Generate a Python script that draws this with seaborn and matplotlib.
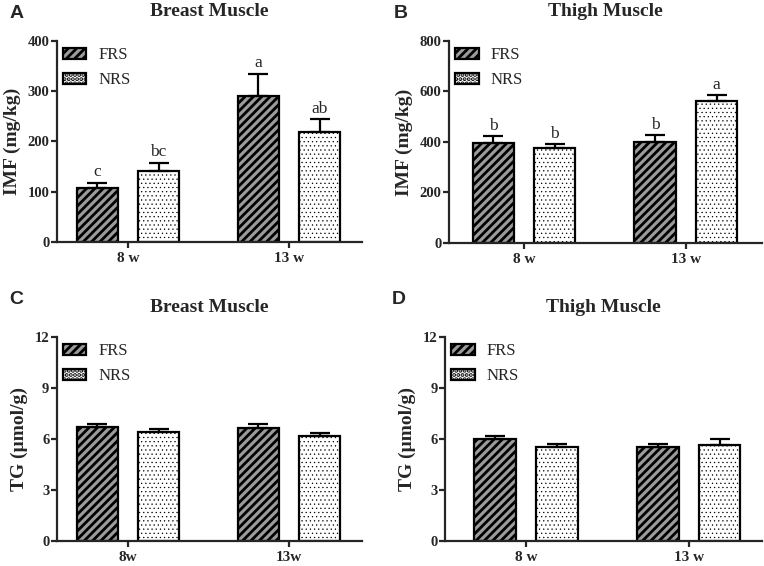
import matplotlib
matplotlib.use('Agg')
import matplotlib.pyplot as plt
import seaborn as sns
import pandas as pd
from matplotlib.patches import Patch

# data (mean, upper error)
groups = ['FRS', 'NRS']
weeks_ab = ['8 w', '13 w']
weeks_c = ['8w', '13w']
weeks_d = ['8 w', '13 w']

imf_breast_frs = [108, 291]
imf_breast_nrs = [142, 218]
imf_breast_frs_err = [10, 44]
imf_breast_nrs_err = [16, 26]
imf_breast_letters_frs = ['c', 'a']
imf_breast_letters_nrs = ['bc', 'ab']

imf_thigh_frs = [395, 401]
imf_thigh_nrs = [375, 561]
imf_thigh_frs_err = [27, 25]
imf_thigh_nrs_err = [16, 25]
imf_thigh_letters_frs = ['b', 'b']
imf_thigh_letters_nrs = ['b', 'a']

tg_breast_frs = [6.69, 6.63]
tg_breast_nrs = [6.39, 6.20]
tg_breast_frs_err = [0.19, 0.23]
tg_breast_nrs_err = [0.22, 0.13]

tg_thigh_frs = [6.00, 5.53]
tg_thigh_nrs = [5.53, 5.67]
tg_thigh_frs_err = [0.18, 0.20]
tg_thigh_nrs_err = [0.16, 0.31]

sns.set_style('ticks')
plt.rcParams['font.family'] = ['Liberation Serif', 'DejaVu Serif']
plt.rcParams['hatch.linewidth'] = 2.0
plt.rcParams['hatch.color'] = 'black'

GRAY = '#9b9b9b'
HATCHES = ['////', '....']
FILLS = [GRAY, 'white']
HATCH_LW = [2.0, 0.4]


def set_hatch_style(p, k):
    p.set_hatch(HATCHES[k])
    if hasattr(p, 'set_hatch_linewidth'):
        p.set_hatch_linewidth(HATCH_LW[k])
    else:
        p._hatch_linewidth = HATCH_LW[k]


def draw_panel(ax, weeks, frs, nrs, frs_err, nrs_err, ylim, yticks, ylabel,
               title, xlim, let_frs=None, let_nrs=None):
    df = pd.DataFrame({
        'week': weeks + weeks,
        'group': ['FRS'] * len(weeks) + ['NRS'] * len(weeks),
        'value': list(frs) + list(nrs),
    })
    sns.barplot(data=df, x='week', y='value', hue='group', order=weeks,
                hue_order=groups, palette=FILLS, width=0.76, gap=0.33,
                errorbar=None, edgecolor='black', linewidth=1.6,
                legend=False, ax=ax)
    errs = [frs_err, nrs_err]
    lets = [let_frs, let_nrs]
    span = ylim[1] - ylim[0]
    bar_conts = list(ax.containers)
    for i, cont in enumerate(bar_conts):
        for j, bar in enumerate(cont):
            set_hatch_style(bar, i)
            bar.set_facecolor(FILLS[i])
            bar.set_edgecolor('black')
            xc = bar.get_x() + bar.get_width() / 2
            h = bar.get_height()
            ax.errorbar(xc, h, yerr=[[0], [errs[i][j]]], fmt='none',
                        ecolor='black', elinewidth=1.6, capsize=7,
                        capthick=1.6, zorder=1)
            if lets[i] is not None:
                ax.text(xc, h + errs[i][j] + span * 0.012, lets[i][j],
                        ha='center', va='bottom', fontsize=12.5)
    ax.set_ylim(*ylim)
    ax.set_yticks(yticks)
    ax.set_xlim(*xlim)
    ax.set_xlabel('')
    ax.set_ylabel(ylabel, fontsize=14, fontweight='bold', labelpad=5)
    ax.set_title(title, fontsize=14, fontweight='bold', pad=18)
    sns.despine(ax=ax)
    for s in ['left', 'bottom']:
        ax.spines[s].set_linewidth(1.6)
    ax.tick_params(axis='y', width=1.6, length=4.5, labelsize=10.5,
                   direction='out', pad=1)
    ax.tick_params(axis='x', width=1.6, length=4.5, labelsize=11,
                   direction='out', pad=3)
    for t in ax.get_xticklabels() + ax.get_yticklabels():
        t.set_fontweight('bold')
    handles = []
    for k in range(2):
        p = Patch(facecolor=FILLS[k], edgecolor='black', linewidth=1.6,
                  label=groups[k])
        set_hatch_style(p, k)
        handles.append(p)
    ax.legend(handles=handles, loc='upper left', bbox_to_anchor=(0.02, 0.97),
              frameon=False, fontsize=12, handlelength=1.4, handleheight=0.65,
              handletextpad=0.7, labelspacing=0.55, borderaxespad=0,
              borderpad=0)


fig = plt.figure(figsize=(7.64, 5.66), dpi=100)
axA = fig.add_axes([0.0746, 0.5724, 0.3992, 0.3552])
axB = fig.add_axes([0.5877, 0.5707, 0.4093, 0.3569])
axC = fig.add_axes([0.0746, 0.0442, 0.3992, 0.3604])
axD = fig.add_axes([0.5825, 0.0442, 0.4145, 0.3604])

draw_panel(axA, weeks_ab, imf_breast_frs, imf_breast_nrs, imf_breast_frs_err,
           imf_breast_nrs_err, (0, 400), [0, 100, 200, 300, 400],
           'IMF (mg/kg)', 'Breast Muscle', (-0.441, 1.453),
           imf_breast_letters_frs, imf_breast_letters_nrs)
draw_panel(axB, weeks_ab, imf_thigh_frs, imf_thigh_nrs, imf_thigh_frs_err,
           imf_thigh_nrs_err, (0, 800), [0, 200, 400, 600, 800],
           'IMF (mg/kg)', 'Thigh Muscle', (-0.463, 1.469),
           imf_thigh_letters_frs, imf_thigh_letters_nrs)
draw_panel(axC, weeks_c, tg_breast_frs, tg_breast_nrs, tg_breast_frs_err,
           tg_breast_nrs_err, (0, 12), [0, 3, 6, 9, 12],
           'TG (\u00b5mol/g)', 'Breast Muscle', (-0.441, 1.453))
draw_panel(axD, weeks_d, tg_thigh_frs, tg_thigh_nrs, tg_thigh_frs_err,
           tg_thigh_nrs_err, (0, 12), [0, 3, 6, 9, 12],
           'TG (\u00b5mol/g)', 'Thigh Muscle', (-0.497, 1.448))

# panel letters
for letter, x, y in [('A', 17, 13), ('B', 401, 13), ('C', 16, 300), ('D', 399, 300)]:
    fig.text(x / 764, 1 - y / 566, letter, fontsize=14, fontweight='bold',
             family='Liberation Sans', ha='center', va='center')

fig.savefig('out.png', dpi=100)
